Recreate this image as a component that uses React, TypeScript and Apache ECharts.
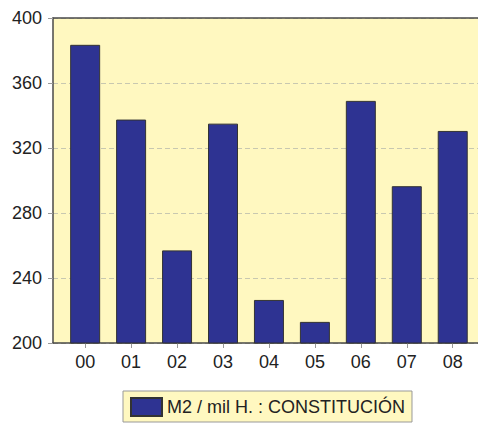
import React, { useEffect, useRef } from "react";
import * as echarts from "echarts";

const categories = ["00", "01", "02", "03", "04", "05", "06", "07", "08"];
const values = [383.5, 337.5, 257, 335, 226.5, 213, 349, 296.5, 330.5];
const seriesName = "M2 / mil H. : CONSTITUCIÓN";
const yTicks = { min: 200, max: 400, interval: 40 };

export default function App() {
  const ref = useRef<HTMLDivElement>(null);
  useEffect(() => {
    if (!ref.current) return;
    const chart = echarts.init(ref.current, null, { renderer: "svg" });
    const idx = categories.map((_, i) => i);
    chart.setOption({
      animation: false,
      textStyle: { fontFamily: "Liberation Sans, Arial, sans-serif" },
      grid: {
        left: 53,
        right: 0,
        top: 18,
        bottom: 80,
        show: true,
        backgroundColor: "#fff8c0",
        borderWidth: 0,
      },
      xAxis: [
        {
          type: "value",
          min: -0.7,
          max: 8.55,
          splitLine: { show: false },
          axisLine: { show: true, onZero: false, lineStyle: { color: "#4a4a4a", width: 1.5 } },
          axisTick: {
            show: true,
            customValues: idx,
            length: 5,
            lineStyle: { color: "#999" },
          },
          axisLabel: {
            customValues: idx,
            formatter: (v: number) => categories[Math.round(v)],
            color: "#222",
            fontSize: 18,
            margin: 10,
          },
        },
        {
          type: "value",
          position: "top",
          min: -0.7,
          max: 8.55,
          splitLine: { show: false },
          axisLine: { show: true, onZero: false, lineStyle: { color: "#4a4a4a", width: 1.5 } },
          axisTick: { show: false },
          axisLabel: { show: false },
        },
      ],
      yAxis: {
        type: "value",
        min: yTicks.min,
        max: yTicks.max,
        interval: yTicks.interval,
        axisLine: { show: true, onZero: false, lineStyle: { color: "#4a4a4a", width: 1.5 } },
        axisTick: { show: true, length: 5, lineStyle: { color: "#999" } },
        axisLabel: { color: "#222", fontSize: 18, margin: 11 },
        splitLine: {
          show: true,
          lineStyle: { color: "#c8c8b0", type: [5, 3], width: 1 },
        },
      },
      legend: {
        left: 123,
        top: 391,
        padding: [6, 7, 5, 7],
        backgroundColor: "#fff8c0",
        borderColor: "#999",
        borderWidth: 1,
        itemWidth: 31,
        itemHeight: 18,
        itemGap: 8,
        icon: "rect",
        textStyle: { fontSize: 18, color: "#222" },
        data: [seriesName],
      },
      series: [
        {
          name: seriesName,
          type: "bar",
          barWidth: 30,
          xAxisIndex: 0,
          data: values.map((v, i) => [i, v]),
          itemStyle: {
            color: "#2e3392",
            borderColor: "#333",
            borderWidth: 1,
          },
        },
      ],
    });
    return () => chart.dispose();
  }, []);
  return <div ref={ref} style={{ width: 478, height: 423, position: "absolute", left: 0, top: 0 }} />;
}
